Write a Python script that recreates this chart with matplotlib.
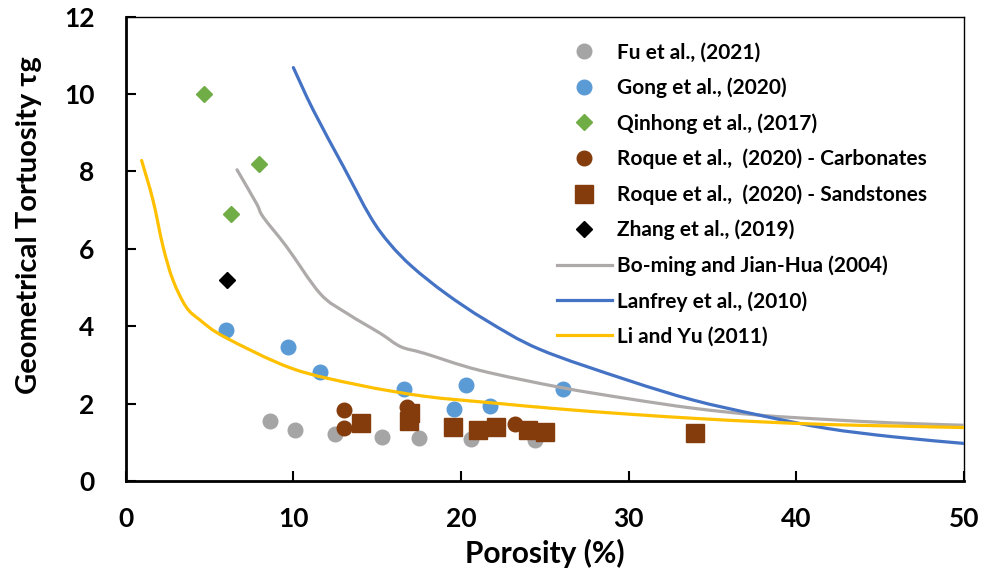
import numpy as np
import matplotlib
matplotlib.use("Agg")
import matplotlib.pyplot as plt
from matplotlib.path import Path
from matplotlib.patches import PathPatch
from matplotlib.transforms import IdentityTransform

# scatter data (porosity %, geometrical tortuosity)
fu_x = [8.6, 10.1, 12.5, 15.3, 17.5, 20.6, 24.4]
fu_y = [1.55, 1.32, 1.21, 1.13, 1.12, 1.08, 1.06]

gong_x = [6.0, 9.7, 11.6, 16.6, 19.6, 20.3, 21.7, 26.1]
gong_y = [3.89, 3.45, 2.82, 2.37, 1.85, 2.49, 1.94, 2.37]

qin_x = [4.65, 6.3, 7.95]
qin_y = [10.0, 6.91, 8.18]

roque_c_x = [13.0, 13.0, 16.75, 23.2]
roque_c_y = [1.84, 1.38, 1.92, 1.47]

roque_s_x = [14.05, 16.9, 16.95, 19.55, 21.0, 22.1, 24.0, 25.0, 33.95]
roque_s_y = [1.51, 1.55, 1.75, 1.40, 1.33, 1.40, 1.32, 1.26, 1.23]

zhang_x = [6.07]
zhang_y = [5.2]

# model curves
boming_x = [6.64, 7.8, 8.2, 9.6, 11.6, 13.2, 15.2, 16.4, 17.8,
            21.1, 25.9, 29.9, 33.85, 37.8, 41.8, 45.8, 50]
boming_y = [8.04, 7.17, 6.82, 6.05, 4.84, 4.33, 3.81, 3.47, 3.30,
            2.86, 2.42, 2.13, 1.88, 1.70, 1.59, 1.50, 1.44]

lanfrey_x = [10.0, 11.2, 13.0, 14.6, 15.75, 17.1, 19.1, 21.5, 24.7, 29.9,
             33.85, 37.8, 41.8, 45.8, 50]
lanfrey_y = [10.68, 9.57, 8.11, 6.82, 6.13, 5.53, 4.84, 4.15, 3.40, 2.61,
             2.09, 1.70, 1.36, 1.14, 0.97]

liyu_x = [0.95, 1.63, 2.23, 2.82, 3.6, 4.4, 5.9, 9.9, 13.9, 17.8,
          21.8, 25.9, 29.9, 33.85, 37.8, 41.8, 45.8, 50]
liyu_y = [8.28, 7.25, 6.05, 5.19, 4.5, 4.17, 3.72, 2.91, 2.48, 2.19,
          2.02, 1.86, 1.73, 1.62, 1.53, 1.46, 1.42, 1.38]

x_ticks = [0, 10, 20, 30, 40, 50]
y_ticks = [0, 2, 4, 6, 8, 10, 12]

FONT = ['Lato', 'DejaVu Sans']
plt.rcParams['font.family'] = FONT
plt.rcParams['font.weight'] = 'bold'

fig = plt.figure(figsize=(9.82, 5.77), dpi=100)
ax = fig.add_axes([0.128, 0.1664, 0.8537, 0.805])
ax.set_xlim(0, 50)
ax.set_ylim(0, 12)


def smooth_line(xs, ys, color, label):
    # excel-style smoothed line: catmull-rom -> bezier in screen space
    pts = ax.transData.transform(np.column_stack([xs, ys]))
    verts = [pts[0]]
    codes = [Path.MOVETO]
    n = len(pts)
    for i in range(n - 1):
        p0 = pts[max(i - 1, 0)]
        p1 = pts[i]
        p2 = pts[i + 1]
        p3 = pts[min(i + 2, n - 1)]
        c1 = p1 + (p2 - p0) / 6
        c2 = p2 - (p3 - p1) / 6
        verts += [c1, c2, p2]
        codes += [Path.CURVE4] * 3
    patch = PathPatch(Path(verts, codes), fill=False, edgecolor=color, lw=2.3,
                      capstyle='round', transform=IdentityTransform(), zorder=4)
    ax.add_patch(patch)
    ax.plot([], [], '-', color=color, lw=2.3, label=label)


ax.plot(fu_x, fu_y, 'o', color='#A5A5A5', ms=10.5, label='Fu et al., (2021)', zorder=3)
ax.plot(gong_x, gong_y, 'o', color='#5B9BD5', ms=10.5, label='Gong et al., (2020)', zorder=3)
ax.plot(qin_x, qin_y, 'D', color='#70AD47', ms=8.5, label='Qinhong et al., (2017)', zorder=3)
ax.plot(roque_c_x, roque_c_y, 'o', color='#843C0C', ms=10.5,
        label='Roque et al.,  (2020) - Carbonates', zorder=3)
ax.plot(roque_s_x, roque_s_y, 's', color='#843C0C', ms=13,
        label='Roque et al.,  (2020) - Sandstones', zorder=3)
ax.plot(zhang_x, zhang_y, 'D', color='black', ms=8.5, label='Zhang et al., (2019)', zorder=3)

smooth_line(boming_x, boming_y, '#AEAAAA', 'Bo-ming and Jian-Hua (2004)')
smooth_line(lanfrey_x, lanfrey_y, '#4472C4', 'Lanfrey et al., (2010)')
smooth_line(liyu_x, liyu_y, '#FFC000', 'Li and Yu (2011)')

ax.set_xticks(x_ticks)
ax.set_yticks(y_ticks)
ax.tick_params(direction='in', length=7, width=1.5, labelsize=19)
ax.tick_params(axis='y', pad=22.5)
ax.tick_params(axis='x', pad=19)
for lab in ax.get_xticklabels() + ax.get_yticklabels():
    lab.set_fontweight('bold')
for s in ['left', 'bottom']:
    ax.spines[s].set_linewidth(2)
for s in ['top', 'right']:
    ax.spines[s].set_linewidth(1)

ax.set_xlabel('Porosity (%)', fontsize=21.5, fontweight='bold', va='top')
ax.set_ylabel('Geometrical Tortuosity τg', fontsize=21, fontweight='bold')
ax.xaxis.set_label_coords(0.5, -0.125)
ax.yaxis.set_label_coords(-0.100, 0.551)

ax.legend(loc='upper left', bbox_to_anchor=(0.505, 0.962), frameon=False,
          prop={'family': FONT, 'weight': 'bold', 'size': 15},
          handlelength=2.6, handletextpad=0.25, labelspacing=0.72, borderaxespad=0)

fig.savefig('out.png', dpi=100)
